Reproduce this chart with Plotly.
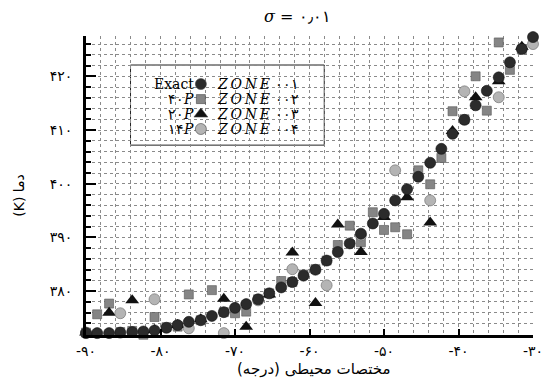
import plotly.graph_objects as go

# Circumferential position (degrees) of the sampling points
angle = [-90.0, -88.5, -86.9, -85.4, -83.8, -82.3, -80.8, -79.2, -77.7, -76.2,
         -74.6, -73.1, -71.5, -70.0, -68.5, -66.9, -65.4, -63.8, -62.3, -60.8,
         -59.2, -57.7, -56.2, -54.6, -53.1, -51.5, -50.0, -48.5, -46.9, -45.4,
         -43.8, -42.3, -40.8, -39.2, -37.7, -36.2, -34.6, -33.1, -31.5, -30.0]

# Exact temperature (K)
temp_exact = [372.2, 372.2, 372.2, 372.3, 372.4, 372.5, 372.7, 373.2, 373.7, 374.3,
              374.6, 375.4, 376.1, 376.9, 377.6, 378.5, 379.6, 380.7, 381.7, 382.9,
              384.0, 385.7, 387.3, 388.9, 390.7, 392.6, 394.4, 396.9, 399.0, 401.3,
              403.9, 406.5, 409.3, 411.9, 414.6, 417.3, 419.8, 422.6, 425.1, 427.3]

# ZONE 002 – 40 sensors
temp_40p = [372.3, 375.7, 377.7, 372.4, 372.6, 371.9, 375.2, 373.3, 373.4, 379.4,
            374.6, 380.2, 376.1, 375.9, 376.2, 378.5, 379.6, 381.9, 381.7, 383.1,
            384.1, 385.7, 388.6, 392.2, 389.1, 394.7, 391.4, 391.9, 390.6, 402.5,
            399.9, 404.8, 413.5, 412.0, 420.0, 413.6, 426.3, 421.2, 425.0, 427.0]

# ZONE 003 – 20 sensors (every second position)
angle_20p = angle[0::2]
temp_20p = [372.3, 376.0, 378.3, 372.8, 373.7, 374.8, 378.6, 373.4, 379.4, 387.2,
            377.8, 392.4, 387.3, 393.8, 397.5, 392.8, 409.8, 416.1, 419.1, 425.5]

# ZONE 004 – 14 sensors (every third position)
angle_14p = angle[0::3]
temp_14p = [372.3, 375.9, 378.5, 373.1, 372.2, 378.3, 384.1, 381.1, 390.4, 402.5,
            396.9, 417.2, 416.1, 426.0]

x_ticks = [-90, -80, -70, -60, -50, -40, -30]
x_ticktext = ["-۹۰", "-۸۰", "-۷۰", "-۶۰", "-۵۰", "-۴۰", "-۳۰"]
y_ticks = [380, 390, 400, 410, 420]
y_ticktext = ["۳۸۰", "۳۹۰", "۴۰۰", "۴۱۰", "۴۲۰"]

TS = "\u2009"  # thin space between the italic letters
ZONE = f"<i>Z{TS}O{TS}N{TS}E</i>"
legend_left = ["Exact", "۴۰<i>P</i>", "۲۰<i>P</i>", "۱۴<i>P</i>"]
legend_right = [f"{ZONE} ۰۰۱", f"{ZONE} ۰۰۲", f"{ZONE} ۰۰۳", f"{ZONE} ۰۰۴"]

C_EXACT = "#2b2b2b"
C_40P = "#858585"
C_20P = "#111111"
C_14P = "#b4b4b4"

SERIF = "DejaVu Serif, Liberation Serif, serif"

fig = go.Figure()

fig.add_trace(go.Scatter(x=angle, y=temp_40p, mode="markers", cliponaxis=False,
                         marker=dict(symbol="square", size=9, color=C_40P,
                                     line=dict(width=0.6, color="#555"))))
fig.add_trace(go.Scatter(x=angle_20p, y=temp_20p, mode="markers", cliponaxis=False,
                         marker=dict(symbol="triangle-up", size=12, color=C_20P,
                                     line=dict(width=0))))
fig.add_trace(go.Scatter(x=angle_14p, y=temp_14p, mode="markers", cliponaxis=False,
                         marker=dict(symbol="circle", size=11, color=C_14P,
                                     line=dict(width=0.6, color="#666"))))
fig.add_trace(go.Scatter(x=angle, y=temp_exact, mode="markers", cliponaxis=False,
                         marker=dict(symbol="circle", size=11, color=C_EXACT,
                                     line=dict(width=0.6, color="#111"))))

# Legend symbols on an overlay axis spanning the plot area
leg_y = [0.8395, 0.789, 0.739, 0.689]
leg_sym = [("circle", 11, C_EXACT), ("square", 9, C_40P),
           ("triangle-up", 12, C_20P), ("circle", 11, C_14P)]
for (sym, sz, col), yy in zip(leg_sym, leg_y):
    fig.add_trace(go.Scatter(x=[0.257], y=[yy], mode="markers", xaxis="x2", yaxis="y2",
                             cliponaxis=False,
                             marker=dict(symbol=sym, size=sz, color=col,
                                         line=dict(width=0.6, color="#444"))))

grid = dict(showgrid=True, gridcolor="#8a8a8a", gridwidth=1, griddash="dot")

fig.update_layout(
    width=555, height=383,
    margin=dict(l=86, r=17, t=36, b=48),
    paper_bgcolor="white", plot_bgcolor="white",
    showlegend=False,
    font=dict(family=SERIF, color="black", size=13),
    xaxis=dict(range=[-90, -30], tickvals=x_ticks, ticktext=x_ticktext,
               ticks="inside", ticklen=6, tickwidth=2, tickcolor="black",
               showline=True, linewidth=3, linecolor="black", zeroline=False,
               tickfont=dict(size=14, family="DejaVu Sans"), ticklabelstandoff=1,
               minor=dict(dtick=2, ticks="", **grid), **grid),
    yaxis=dict(range=[371.85, 427.5], tickvals=y_ticks, ticktext=y_ticktext,
               ticks="inside", ticklen=10, tickwidth=2, tickcolor="black",
               showline=True, linewidth=3, linecolor="black", zeroline=False,
               tickfont=dict(size=14, family="DejaVu Sans"), ticklabelstandoff=8,
               minor=dict(dtick=2, ticks="inside", ticklen=5, tickwidth=1.5,
                          tickcolor="black", **grid), **grid),
    xaxis2=dict(overlaying="x", range=[0, 1], visible=False, domain=[0, 1]),
    yaxis2=dict(overlaying="y", range=[0, 1], visible=False),
)

# Legend frame
fig.add_shape(type="rect", xref="paper", yref="paper",
              x0=0.0996, x1=0.533, y0=0.635, y1=0.903,
              fillcolor="white", line=dict(color="#222", width=1), layer="between")

for txt, yy in zip(legend_left, leg_y):
    fig.add_annotation(x=0.243, y=yy, xref="paper", yref="paper", text=txt,
                       showarrow=False, xanchor="right", yanchor="middle",
                       borderpad=0, font=dict(size=14, family=SERIF))
for txt, yy in zip(legend_right, leg_y):
    fig.add_annotation(x=0.290, y=yy, xref="paper", yref="paper", text=txt,
                       showarrow=False, xanchor="left", yanchor="middle",
                       borderpad=0, font=dict(size=14, family=SERIF))

# Title and axis titles, placed in pixels and converted below
fig.add_annotation(x=300, y=16, xref="paper", yref="paper", text="<i>σ</i> = ۰٫۰۱",
                   showarrow=False, xanchor="center", yanchor="middle",
                   font=dict(size=16, family=SERIF))
fig.add_annotation(x=316, y=369, xref="paper", yref="paper",
                   text="مختصات محیطی (درجه)", showarrow=False,
                   xanchor="center", yanchor="middle",
                   font=dict(size=15, family="DejaVu Sans"))
fig.add_annotation(x=18, y=195, xref="paper", yref="paper", text="(K) دما",
                   textangle=-90, showarrow=False, xanchor="center", yanchor="middle",
                   font=dict(size=14, family="DejaVu Sans"))

W, H, L, R, T, B = 555, 383, 86, 17, 36, 48
for ann in fig.layout.annotations[-3:]:
    ann.x = (ann.x - L) / (W - L - R)
    ann.y = (H - B - ann.y) / (H - T - B)

fig.write_html("out.html")
